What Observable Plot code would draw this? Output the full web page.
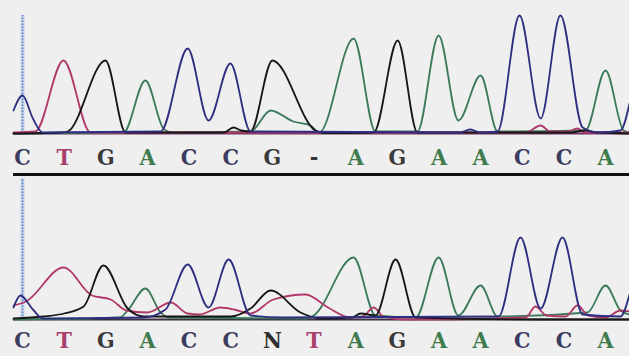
<!DOCTYPE html>
<html><head><meta charset="utf-8">
<script src="https://cdn.jsdelivr.net/npm/d3@7"></script>
<script src="https://cdn.jsdelivr.net/npm/@observablehq/plot@0.6"></script>
<style>
body{margin:0;background:#efefef;}
#chart{width:629px;height:356px;overflow:hidden;}
#chart svg{display:block;}
#chart text{font-stretch:condensed;}
</style>
</head><body><div id="chart"></div>
<script>
// Base calls (scan position of each call)
const baseScans = [100,112,124,136,148,160,172,184,196,208,220,232,244,256,268];
const callsTop = ["C","T","G","A","C","C","G","-","A","G","A","A","C","C","A"];
const callsBottom = ["C","T","G","A","C","C","N","T","A","G","A","A","C","C","A"];

// Top trace: [scan, signal]
const topA = [[97.4,0],[129.1,1],[135.4,53],[140.6,5],[143,1],[165.7,2],[171.5,23],[178,12],[183,8],[185.5,1],[195.4,95],[201.7,2],[213.8,2],[219.9,98],[225.6,13],[232.0,58],[236.9,2],[262.2,3],[268.0,63],[273.2,3],[274.9,1]];
const topC = [[97.4,23],[100,38],[103,15],[105.8,1],[139.8,2],[147.6,85],[153.6,13],[159.9,70],[165.7,2],[226,1],[229,4],[232,1],[236.9,2],[243.2,118],[249.3,15],[255.0,118],[261.4,6],[266,1],[272.3,3],[274.9,30]];
const topG = [[97.4,0],[111,1],[113,2],[123.9,73],[129.7,1],[158,1],[160.8,6],[163,3],[165.7,2],[172.0,73],[184.4,3],[187,0.5],[201.2,1],[208.1,93],[213.8,1],[258,1],[262,3],[266,1],[274.9,0]];
const topT = [[97.4,1],[103.7,2],[111.8,73],[119.6,1],[245,1],[249.3,8],[252,2],[257,2],[259.9,5],[262,1],[274.9,1]];

// Bottom trace: [scan, signal]
const botA = [[97.4,0],[128,2],[130.3,9],[135.4,31],[139.8,7],[142,2],[182,1],[183.9,4],[195.4,62],[201.7,4],[213.3,2],[219.9,62],[225.6,4],[232.0,34],[236.9,3],[262.8,7],[268.0,34],[272.3,9],[274.9,5]];
const botC = [[97.4,12],[99.4,24],[103,10],[105.8,1],[135,2],[141.2,10],[147.6,55],[153.6,12],[159.4,60],[165.7,4],[175,2],[237.2,3],[243.5,82],[249.3,11],[255.6,82],[261.4,5],[272.3,3],[274.9,25]];
const botG = [[97.4,1],[106.1,3],[112,6],[117.6,13],[123.3,54],[130.3,11],[135,3],[160,3],[165.7,11],[171.5,29],[180.1,7],[185.9,1],[195,2],[197.4,6],[201.7,4],[207.5,60],[213.3,2],[250,0],[274.9,0]];
const botT = [[97.4,14],[101,18],[111.8,52],[120,24],[125.4,20],[130,9],[136,7],[142.7,17],[147.6,6],[151,5],[157,12],[161,10],[165.7,6],[172.3,20],[181.6,25],[188,12],[194.5,2],[198,3],[201.2,12],[204,3],[210,0],[245,2],[247.8,13],[251,4],[256.5,3],[259.9,14],[263,4],[268,2],[272.3,9],[274.9,8]];

const traceColors = {A:"#3b7a58", C:"#2e2e80", G:"#161616", T:"#b0386a"};
const letterDomain = ["A","C","G","T","N","-"];
const letterRange = ["#3f7b4c","#3c3c5e","#3a3a3a","#a8406a","#2e2e2e","#333333"];

function panel({traces, calls, marginTop, marginBottom, letterY, markerTop, baselineColor, separatorY}) {
  const marks = [
    Plot.ruleX([baseScans[0]], {y1: 0, y2: markerTop, stroke: "#a9c4ea", strokeWidth: 4, strokeOpacity: 0.6}),
    Plot.ruleX([baseScans[0]], {y1: 0, y2: markerTop, stroke: "#5b7fc0", strokeWidth: 1.6, strokeDasharray: "1.5,1.5"}),
    Plot.ruleY([0], {stroke: baselineColor, strokeWidth: 2}),
  ];
  for (const [ch, pts] of Object.entries(traces)) {
    marks.push(Plot.line(pts, {x: d => d[0], y: d => d[1], stroke: traceColors[ch], strokeWidth: 1.8, curve: "monotone-x"}));
  }
  marks.push(Plot.text(calls.map((b, i) => ({b, s: baseScans[i]})), {
    x: "s", y: () => letterY, text: "b", fill: "b",
    fontFamily: "'DejaVu Serif Condensed', 'DejaVu Serif', serif", fontWeight: "bold", fontSize: 23
  }));
  if (separatorY !== undefined) marks.push(Plot.ruleY([separatorY], {stroke: "#111", strokeWidth: 3}));
  return Plot.plot({
    width: 629, height: 178,
    marginLeft: 13, marginRight: 0, marginTop, marginBottom,
    x: {domain: [97.4, 274.9], axis: null},
    y: {domain: [0, 120], axis: null},
    color: {domain: letterDomain, range: letterRange},
    style: {background: "#efefef"},
    marks
  });
}

const topPanel = panel({
  traces: {A: topA, T: topT, G: topG, C: topC},
  calls: callsTop, marginTop: 13, marginBottom: 45, letterY: -24, markerTop: 118,
  baselineColor: "#6e3563", separatorY: -41
});
const bottomPanel = panel({
  traces: {A: botA, T: botT, G: botG, C: botC},
  calls: callsBottom, marginTop: 21, marginBottom: 37, letterY: -21, markerTop: 141,
  baselineColor: "#3d3040"
});
document.getElementById("chart").append(topPanel, bottomPanel);
</script>
</body></html>
